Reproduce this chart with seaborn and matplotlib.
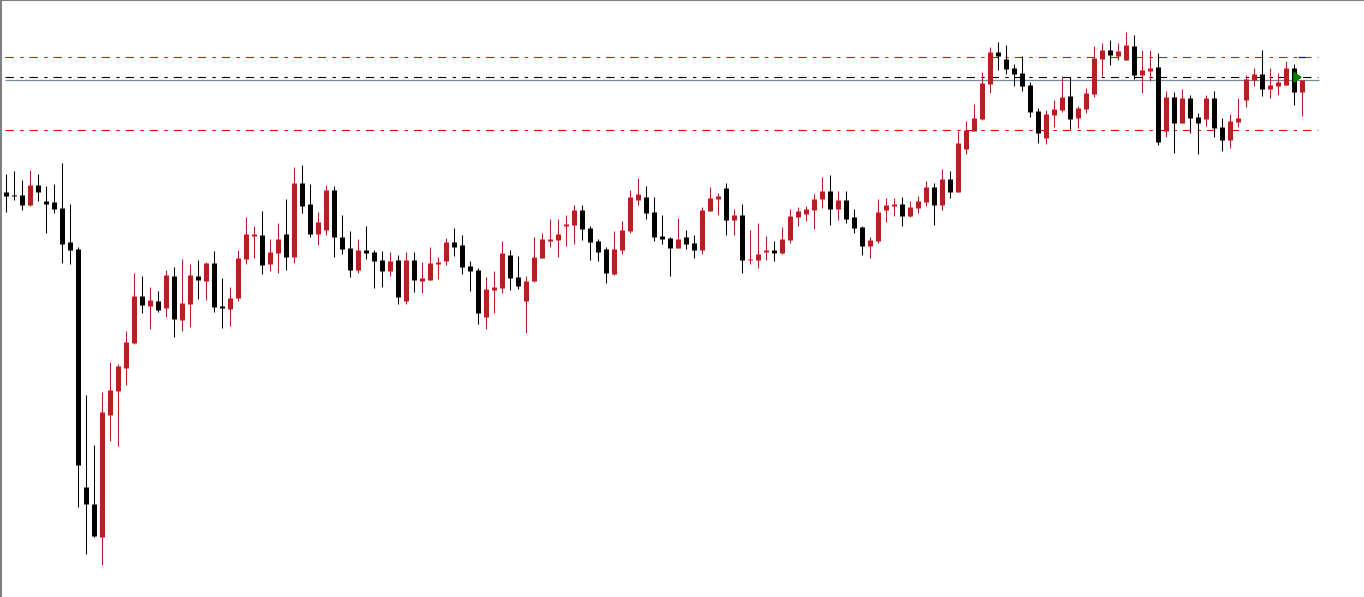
import numpy as np
import pandas as pd
import matplotlib
matplotlib.use("Agg")
import matplotlib.pyplot as plt
import seaborn as sns
import seaborn.objects as so

# ---------------- data (arbitrary price units) ----------------
opens = [408, 405, 405, 395, 415, 399, 398, 392, 358, 351,
         113, 96, 63, 185, 209, 232, 257, 304, 294, 299,
         292, 324, 280, 296, 324, 319, 337, 294, 291, 302,
         341, 364, 365, 336, 347, 366, 343, 417, 396, 366,
         370, 410, 363, 352, 330, 350, 348, 340, 329, 340,
         299, 340, 319, 320, 336, 339, 358, 355, 334, 330,
         283, 310, 312, 345, 323, 299, 319, 342, 359, 360,
         374, 375, 390, 372, 359, 351, 326, 350, 369, 400,
         403, 388, 364, 362, 352, 363, 357, 350, 389, 401,
         412, 380, 385, 340, 340, 348, 350, 347, 360, 383,
         386, 390, 401, 409, 391, 400, 383, 373, 354, 359,
         390, 394, 396, 384, 392, 398, 413, 395, 421, 408,
         451, 469, 481, 516, 548, 541, 532, 527, 515, 489,
         462, 485, 490, 504, 482, 491, 506, 541, 550, 544,
         540, 554, 525, 529, 533, 469, 503, 477, 502, 483,
         481, 502, 473, 460, 478, 500, 520, 526, 511, 514,
         515, 532, 508]
highs = [426, 429, 420, 430, 426, 414, 416, 437, 396, 353,
         205, 155, 208, 238, 236, 269, 327, 324, 313, 309,
         330, 333, 341, 336, 340, 338, 349, 322, 313, 350,
         383, 374, 389, 361, 377, 401, 433, 435, 416, 388,
         415, 414, 385, 369, 361, 374, 350, 349, 348, 345,
         348, 348, 338, 353, 343, 362, 372, 365, 339, 332,
         323, 329, 359, 350, 344, 324, 363, 367, 381, 381,
         385, 395, 395, 374, 361, 353, 369, 379, 410, 422,
         414, 403, 385, 363, 382, 370, 365, 393, 413, 407,
         417, 391, 396, 370, 377, 364, 359, 373, 391, 393,
         394, 406, 423, 425, 409, 409, 391, 374, 363, 401,
         402, 402, 403, 399, 404, 419, 417, 431, 429, 469,
         479, 496, 528, 553, 558, 555, 536, 544, 518, 492,
         490, 500, 524, 523, 494, 512, 554, 557, 560, 557,
         568, 565, 550, 550, 547, 509, 508, 511, 505, 487,
         505, 509, 482, 486, 502, 525, 532, 550, 532, 527,
         539, 536, 520]
lows = [388, 400, 390, 394, 399, 367, 387, 337, 336, 93,
        46, 63, 35, 159, 154, 215, 256, 287, 271, 288,
        283, 263, 269, 273, 301, 300, 288, 272, 274, 299,
        336, 342, 326, 329, 327, 330, 337, 387, 363, 355,
        365, 343, 346, 323, 327, 341, 312, 313, 324, 296,
        296, 308, 307, 320, 321, 335, 344, 326, 309, 276,
        271, 287, 307, 310, 311, 267, 318, 342, 353, 343,
        354, 356, 360, 340, 339, 317, 325, 346, 367, 395,
        381, 359, 356, 324, 352, 351, 342, 346, 389, 385,
        365, 365, 327, 336, 332, 340, 339, 346, 357, 374,
        379, 371, 392, 375, 380, 377, 367, 345, 342, 357,
        378, 384, 374, 383, 387, 394, 375, 390, 402, 408,
        446, 469, 480, 507, 530, 526, 514, 509, 483, 457,
        456, 473, 488, 471, 472, 487, 503, 524, 535, 540,
        540, 521, 507, 519, 455, 463, 447, 477, 467, 446,
        474, 463, 449, 452, 473, 493, 514, 504, 502, 505,
        515, 495, 484]
closes = [404, 404, 395, 415, 408, 396, 391, 356, 350, 135,
          96, 64, 188, 210, 234, 258, 304, 295, 300, 290,
          325, 281, 297, 325, 320, 337, 293, 292, 302, 342,
          366, 366, 335, 348, 361, 343, 417, 394, 366, 378,
          410, 363, 351, 330, 350, 347, 339, 329, 339, 303,
          340, 320, 322, 337, 338, 358, 353, 333, 329, 287,
          311, 313, 347, 322, 314, 319, 343, 361, 361, 366,
          376, 390, 371, 358, 348, 327, 351, 370, 403, 406,
          387, 363, 361, 352, 361, 356, 350, 390, 402, 404,
          380, 385, 340, 341, 346, 350, 347, 361, 384, 389,
          391, 401, 409, 391, 400, 381, 372, 354, 360, 388,
          395, 396, 384, 393, 399, 413, 395, 421, 408, 457,
          470, 482, 517, 548, 544, 531, 526, 514, 488, 467,
          486, 491, 503, 481, 492, 507, 542, 550, 545, 549,
          555, 525, 530, 532, 458, 503, 477, 502, 482, 477,
          502, 472, 460, 479, 482, 521, 526, 511, 515, 518,
          532, 508, 520]

# horizontal levels
red_levels = [542.7, 469.7]
black_level = 522.7
gray_level = 519.7
marker_span = (161.3, 162.05)     # green arrow (candle-index units)
blue_span = (161.5, 162.4)        # small blue piece on upper red level

UP_COLOR = "#B22222"
DOWN_COLOR = "#000000"

# ---------------- frame ----------------
n = len(opens)
df = pd.DataFrame({
    "idx": np.arange(n),
    "open": opens, "high": highs, "low": lows, "close": closes,
})
df["body_lo"] = df[["open", "close"]].min(axis=1)
df["body_hi"] = np.maximum(df[["open", "close"]].max(axis=1), df["body_lo"] + 1.5)
df["col"] = np.where(df["close"] > df["open"], UP_COLOR, DOWN_COLOR)

sns.set_theme(style="white")
plt.rcParams["lines.solid_capstyle"] = "butt"
plt.rcParams["lines.scale_dashes"] = False
plt.rcParams["font.family"] = ["DejaVu Sans"]

fig = plt.figure(figsize=(13.64, 5.97), dpi=100)
ax = fig.add_axes([0, 0, 1, 1])

XLIM = (-0.708, 169.79)
YLIM = (3, 600)

(
    so.Plot(df, x="idx", ymin="low", ymax="high", color="col")
    .add(so.Range(linewidth=0.75))
    .add(so.Range(linewidth=3.6), ymin="body_lo", ymax="body_hi")
    .scale(color=None)
    .limit(x=XLIM, y=YLIM)
    .theme(sns.axes_style("white"))
    .on(ax)
    .plot()
)

fig.set_layout_engine("none")
ax.set_position([0, 0, 1, 1])
ax.set_xlim(*XLIM)
ax.set_ylim(*YLIM)
ax.set_facecolor("white")
ax.grid(False)
ax.set_xticks([])
ax.set_yticks([])
ax.set_xlabel("")
ax.set_ylabel("")

dash = (0, (6.0, 4.6, 2.4, 4.3))
x0f, x1f = 5 / 1364, 1318 / 1364
for lv in red_levels:
    ax.axhline(lv, xmin=x0f, xmax=x1f, color="#FF0000", lw=0.8, linestyle=dash, zorder=1)
ax.axhline(black_level, xmin=x0f, xmax=x1f, color="#000000", lw=0.8, linestyle=dash, zorder=1)
ax.axhline(gray_level, xmin=x0f, xmax=1319 / 1364, color="#778899", lw=0.9, zorder=1)
ax.plot(blue_span, [red_levels[0]] * 2, color="#0000FF", lw=0.9, solid_capstyle="butt", zorder=3)
ax.annotate("", xy=(marker_span[1], black_level), xytext=(marker_span[0], black_level),
            arrowprops=dict(arrowstyle="-|>,head_length=0.35,head_width=0.25",
                            color="#008000", lw=1.6, shrinkA=0, shrinkB=0), zorder=4)

for side in ("right", "bottom"):
    ax.spines[side].set_visible(False)
ax.spines["left"].set_color("#808080")
ax.spines["left"].set_linewidth(2.9)
ax.spines["top"].set_color("#808080")
ax.spines["top"].set_linewidth(1.5)

fig.savefig("out.png", dpi=100)
